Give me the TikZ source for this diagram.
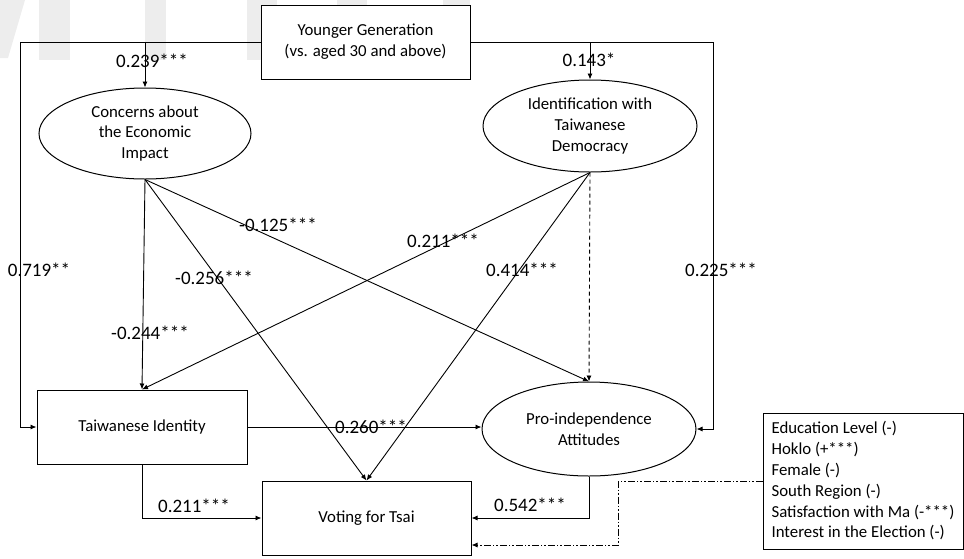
\documentclass[tikz,border=0pt]{standalone}
\usepackage{fontspec}
\setmainfont{Carlito}
\usetikzlibrary{shapes.geometric,arrows.meta}
\newcommand\mynodefont{\fontsize{16.8}{20.8}\selectfont}
\newcommand\mylblfont{\fontsize{19}{22}\selectfont}
\begin{document}
\begin{tikzpicture}[x=1pt,y=-1pt,
  box/.style={draw, line width=1pt, fill=white, inner sep=0pt, align=center, font=\mynodefont},
  ell/.style={draw, ellipse, line width=1pt, fill=white, inner sep=0pt, align=center, font=\mynodefont},
  arr/.style={-{Latex[length=6pt,width=5pt]}, line width=0.9pt},
  lbl/.style={inner sep=0pt, font=\mylblfont},
  wm/.style={fill=black!7, draw=none},
  dd/.style={dash pattern=on 7pt off 2pt on 1.5pt off 2pt on 1.5pt off 2pt}
]
\useasboundingbox (0,0) rectangle (964,558);
% faint background marks
\fill[wm] (0,0) -- (25,0) -- (8,58) -- (0,58) -- cycle;
\fill[wm] (39,0) rectangle (70,60);
\fill[wm] (145,0) rectangle (166,60);
\fill[wm] (247,0) rectangle (277,60);
\fill[wm] (337,0) rectangle (367,60);
\fill[wm] (443,0) rectangle (470,60);

% nodes
\node[box, minimum width=209pt, minimum height=74pt] (yg) at (365.5,42) {Younger Generation\\(vs. aged 30 and above)};
\node[ell, minimum width=212pt, minimum height=91pt] (conc) at (145,133.5) {Concerns about\\the Economic\\Impact};
\node[ell, minimum width=214pt, minimum height=92pt] (ident) at (590,126) {Identification with\\Taiwanese\\Democracy};
\node[box, minimum width=210pt, minimum height=74pt] (ti) at (142,427) {Taiwanese Identity};
\node[ell, minimum width=214pt, minimum height=94pt] (pro) at (589,429) {Pro-independence\\Attitudes};
\node[box, minimum width=209pt, minimum height=74pt] (vote) at (366.5,518) {Voting for Tsai};
\node[box, minimum width=200pt, minimum height=136pt, align=left] (ctrl) at (863,481) {Education Level (-)\\Hoklo (+***)\\Female (-)\\South Region (-)\\Satisfaction with Ma (-***)\\Interest in the Election (-)};

% connectors from Younger Generation
\coordinate (lc) at (20,42);
\coordinate (rc) at (713,42);
\draw[arr] (yg.west) -- (lc) |- (ti.west);
\draw[arr] (conc.north |- yg.west) -- (conc.north);
\draw[arr] (yg.east) -- (rc) |- (pro.east);
\draw[arr] (ident.north |- yg.east) -- (ident.north);

% from Concerns
\draw[arr] (conc.south) -- (ti.north);
\draw[arr] (conc.south) -- (vote.north);
\draw[arr] (conc.south) -- (pro.north);
% from Identification
\draw[arr] (ident.south) -- (ti.north);
\draw[arr] (ident.south) -- (vote.north);
\draw[arr, dash pattern=on 4pt off 3pt] (ident.south) -- (pro.north);
% Taiwanese identity
\draw[arr] (ti.east) -- (ti.east -| pro.west);
\draw[arr] (ti.south) |- (vote.west);
% Pro-independence
\draw[arr] (pro.south) |- (vote.east);
% controls
\coordinate (cc) at (618,545);
\coordinate (vin) at (vote.east |- cc);
\draw[arr, dd] (ctrl.west) -| (cc) -- (vin);

% labels
\node[lbl] at (152,61) {0.239***};
\node[lbl] at (589,60) {0.143*};
\node[lbl] at (39,270) {0.719**};
\node[lbl] at (721,270) {0.225***};
\node[lbl] at (150,333) {-0.244***};
\node[lbl] at (214,278) {-0.256***};
\node[lbl] at (278,225) {-0.125***};
\node[lbl] at (443,241) {0.211***};
\node[lbl] at (522,270) {0.414***};
\node[lbl] at (371,427) {0.260***};
\node[lbl] at (194,506) {0.211***};
\node[lbl] at (530,505) {0.542***};
\end{tikzpicture}
\end{document}
